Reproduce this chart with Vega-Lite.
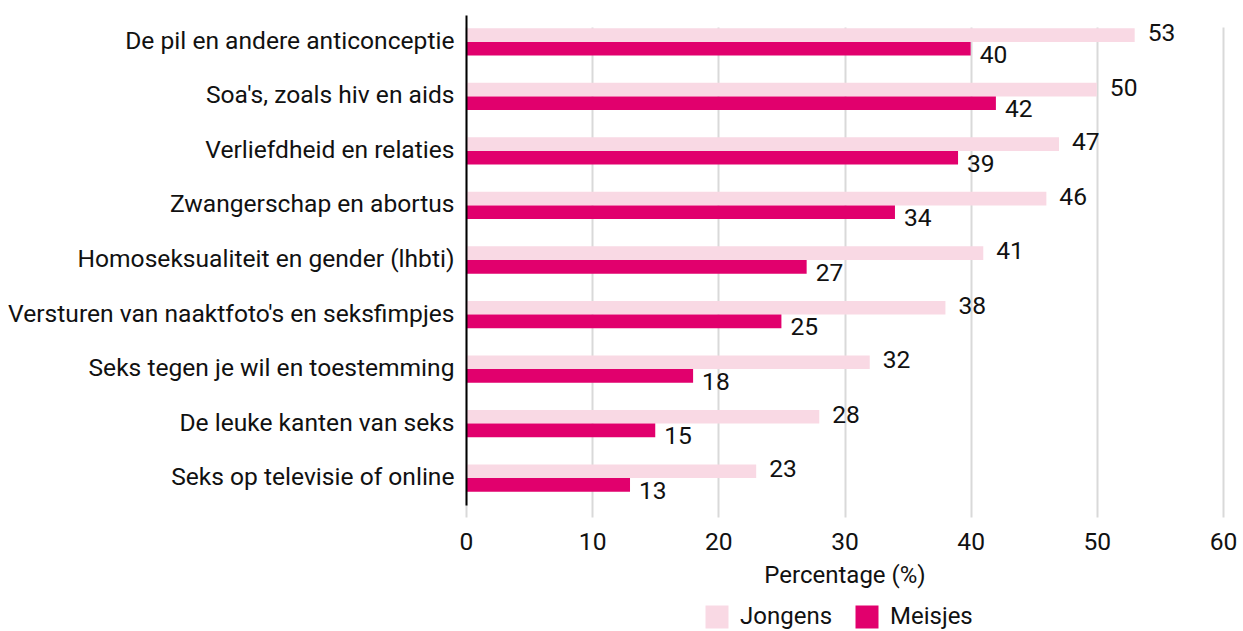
{
  "$schema": "https://vega.github.io/schema/vega-lite/v6.json",
  "width": 757,
  "height": 502,
  "autosize": {"type": "none"},
  "padding": {"left": 466, "top": 15, "right": 20, "bottom": 114},
  "config": {
    "font": "Roboto",
    "view": {"stroke": null},
    "axis": {"labelColor": "#111111", "titleColor": "#111111", "labelFontSize": 24.6, "titleFontSize": 24, "titleFontWeight": "normal", "labelFont": "Roboto", "titleFont": "Roboto"},
    "legend": {"labelColor": "#111111", "labelFont": "Roboto"}
  },
  "data": {
    "values": [
      {"onderwerp": "De pil en andere anticonceptie", "groep": "Jongens", "pct": 53},
      {"onderwerp": "De pil en andere anticonceptie", "groep": "Meisjes", "pct": 40},
      {"onderwerp": "Soa's, zoals hiv en aids", "groep": "Jongens", "pct": 50},
      {"onderwerp": "Soa's, zoals hiv en aids", "groep": "Meisjes", "pct": 42},
      {"onderwerp": "Verliefdheid en relaties", "groep": "Jongens", "pct": 47},
      {"onderwerp": "Verliefdheid en relaties", "groep": "Meisjes", "pct": 39},
      {"onderwerp": "Zwangerschap en abortus", "groep": "Jongens", "pct": 46},
      {"onderwerp": "Zwangerschap en abortus", "groep": "Meisjes", "pct": 34},
      {"onderwerp": "Homoseksualiteit en gender (lhbti)", "groep": "Jongens", "pct": 41},
      {"onderwerp": "Homoseksualiteit en gender (lhbti)", "groep": "Meisjes", "pct": 27},
      {"onderwerp": "Versturen van naaktfoto's en seksfimpjes", "groep": "Jongens", "pct": 38},
      {"onderwerp": "Versturen van naaktfoto's en seksfimpjes", "groep": "Meisjes", "pct": 25},
      {"onderwerp": "Seks tegen je wil en toestemming", "groep": "Jongens", "pct": 32},
      {"onderwerp": "Seks tegen je wil en toestemming", "groep": "Meisjes", "pct": 18},
      {"onderwerp": "De leuke kanten van seks", "groep": "Jongens", "pct": 28},
      {"onderwerp": "De leuke kanten van seks", "groep": "Meisjes", "pct": 15},
      {"onderwerp": "Seks op televisie of online", "groep": "Jongens", "pct": 23},
      {"onderwerp": "Seks op televisie of online", "groep": "Meisjes", "pct": 13}
    ]
  },
  "encoding": {
    "y": {
      "field": "onderwerp", "type": "nominal", "sort": null,
      "scale": {"range": [0, 490], "paddingInner": 0.5, "paddingOuter": 0.244},
      "axis": {"title": null, "domain": true, "domainColor": "#000000", "domainWidth": 2, "ticks": false, "labelPadding": 12, "labelLimit": 0, "grid": false, "zindex": 1}
    },
    "yOffset": {"field": "groep", "type": "nominal", "scale": {"paddingInner": 0, "paddingOuter": 0}},
    "x": {
      "field": "pct", "type": "quantitative",
      "scale": {"domain": [0, 60], "nice": false},
      "axis": {"title": "Percentage (%)", "values": [0, 10, 20, 30, 40, 50, 60], "domain": false, "ticks": false, "grid": true, "gridColor": "#d9d9d9", "gridWidth": 2, "labelFlush": false, "labelPadding": 13, "titlePadding": 10}
    }
  },
  "layer": [
    {
      "mark": {"type": "bar"},
      "encoding": {
        "color": {
          "field": "groep", "type": "nominal",
          "scale": {"domain": ["Jongens", "Meisjes"], "range": ["#f9d9e4", "#e1006d"]},
          "legend": {"orient": "none", "legendX": 239, "legendY": 590, "direction": "horizontal", "title": null, "symbolType": "square", "symbolSize": 529, "symbolStrokeWidth": 0, "labelFontSize": 24, "labelOffset": 11, "columnPadding": 22, "padding": 0}
        }
      }
    },
    {
      "transform": [{"filter": "datum.groep === 'Jongens'"}],
      "mark": {"type": "text", "align": "left", "baseline": "middle", "dx": 13, "dy": -1, "fontSize": 24.6, "font": "Roboto", "color": "#111111"},
      "encoding": {"text": {"field": "pct", "type": "quantitative"}}
    },
    {
      "transform": [{"filter": "datum.groep === 'Meisjes'"}],
      "mark": {"type": "text", "align": "left", "baseline": "middle", "dx": 9, "dy": 7, "fontSize": 24.6, "font": "Roboto", "color": "#111111"},
      "encoding": {"text": {"field": "pct", "type": "quantitative"}}
    }
  ]
}
